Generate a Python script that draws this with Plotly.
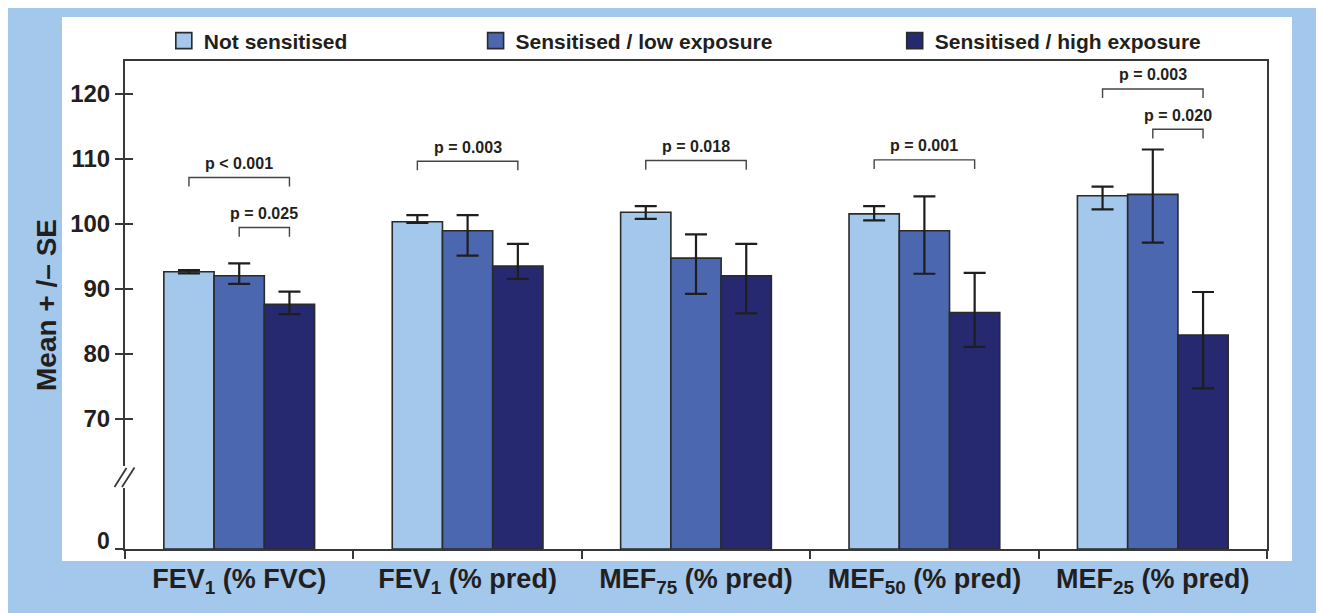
import plotly.graph_objects as go

# ---------------- data ----------------
categories = ["FEV<sub>1</sub> (% FVC)", "FEV<sub>1</sub> (% pred)",
              "MEF<sub>75</sub> (% pred)", "MEF<sub>50</sub> (% pred)",
              "MEF<sub>25</sub> (% pred)"]
series_names = ["Not sensitised", "Sensitised / low exposure", "Sensitised / high exposure"]

not_sens_mean = [92.6, 100.3, 101.75, 101.5, 104.3]
not_sens_plus = [0.25, 1.0, 0.95, 1.2, 1.4]
not_sens_minus = [0.25, 0.2, 1.0, 1.0, 2.1]

low_exp_mean = [92.0, 98.9, 94.7, 98.9, 104.5]
low_exp_plus = [1.9, 2.4, 3.65, 5.3, 6.9]
low_exp_minus = [1.25, 3.8, 5.5, 6.6, 7.4]

high_exp_mean = [87.6, 93.5, 92.0, 86.35, 82.9]
high_exp_plus = [1.95, 3.4, 4.9, 6.1, 6.6]
high_exp_minus = [1.5, 2.0, 5.8, 5.3, 8.2]

# significance brackets: (category index, from group, to group, level, label)
bracket_cat = [0, 0, 1, 2, 3, 4, 4]
bracket_from = [0, 1, 0, 0, 0, 0, 1]
bracket_to = [2, 2, 2, 2, 2, 2, 2]
bracket_level = [107.1, 99.4, 109.6, 109.7, 109.8, 120.7, 114.5]
bracket_label = ["p < 0.001", "p = 0.025", "p = 0.003", "p = 0.018",
                 "p = 0.001", "p = 0.003", "p = 0.020"]

y_tick_vals = [50, 70, 80, 90, 100, 110, 120]
y_tick_text = ["", "70", "80", "90", "100", "110", "120"]
zero_label_level = 51.2

# ---------------- style ----------------
FONT = "Liberation Sans, Arial, Helvetica, sans-serif"
TXT = "#231F20"
BG_BLUE = "#A3C8EC"
colors = ["#A3C8EC", "#4A67B0", "#262870"]
OUT = "#2A2A2A"
AX = "#383838"

Y0, Y1 = 50, 125
BAR_W = 0.22

fig = go.Figure()

means = [not_sens_mean, low_exp_mean, high_exp_mean]
pluses = [not_sens_plus, low_exp_plus, high_exp_plus]
minuses = [not_sens_minus, low_exp_minus, high_exp_minus]

for i in range(3):
    fig.add_trace(go.Bar(
        x=categories, y=[m - Y0 for m in means[i]], base=Y0,
        name=series_names[i], showlegend=False,
        marker=dict(color=colors[i], line=dict(color=OUT, width=1.6)),
        width=BAR_W,
        error_y=dict(type="data", symmetric=False, array=pluses[i],
                     arrayminus=minuses[i], color="#1E1E1E", thickness=2.2, width=11),
    ))

legend_x = [0.034, 0.307, 0.674]
legend_keys = ["legend", "legend2", "legend3"]
for i in range(3):
    fig.add_trace(go.Scatter(
        x=[None], y=[None], mode="markers", name=series_names[i],
        marker=dict(symbol="square", size=16, color=colors[i],
                    line=dict(color=OUT, width=1.6)),
        legend=legend_keys[i], yaxis="y2", showlegend=True,
    ))

shapes = []
# page-pixel helpers (plot area spans page x 125..1267, y 61..549)
def px_x(px):
    return (px - 125) / 1142.0

def px_y(py):
    return (549 - py) / 488.0

shapes.append(dict(type="rect", xref="paper", yref="paper", x0=px_x(6), x1=px_x(1340),
                   y0=px_y(630), y1=px_y(7), fillcolor=BG_BLUE, line=dict(width=0), layer="below"))
shapes.append(dict(type="rect", xref="paper", yref="paper", x0=px_x(62), x1=px_x(1292),
                   y0=px_y(561), y1=px_y(17), fillcolor="white", line=dict(width=0), layer="below"))

# axis break
shapes.append(dict(type="rect", xref="paper", yref="paper", x0=px_x(119), x1=px_x(131),
                   y0=px_y(488), y1=px_y(466), fillcolor="white", line=dict(width=0), layer="above"))
shapes.append(dict(type="line", xref="paper", yref="paper", x0=px_x(114.5), x1=px_x(126.5),
                   y0=px_y(487), y1=px_y(468), line=dict(color=AX, width=1.8), layer="above"))
shapes.append(dict(type="line", xref="paper", yref="paper", x0=px_x(122), x1=px_x(134.5),
                   y0=px_y(487), y1=px_y(467.5), line=dict(color=AX, width=1.8), layer="above"))

offsets = [-BAR_W, 0.0, BAR_W]
annotations = []
drop = 1.4
for c, f, t, lv, lab in zip(bracket_cat, bracket_from, bracket_to, bracket_level, bracket_label):
    xa = c + offsets[f]
    xb = c + offsets[t]
    shapes.append(dict(type="path", xref="x", yref="y",
                       path=f"M {xa},{lv - drop} L {xa},{lv} L {xb},{lv} L {xb},{lv - drop}",
                       line=dict(color="#444444", width=1.4)))
    annotations.append(dict(x=(xa + xb) / 2, y=lv, xref="x", yref="y", text=lab,
                            showarrow=False, yanchor="middle", yshift=14,
                            font=dict(family=FONT, size=16, color=TXT, weight="bold")))

annotations.append(dict(x=px_x(112), y=zero_label_level, xref="paper", yref="y", text="0",
                        showarrow=False, xanchor="right", yanchor="middle",
                        font=dict(family=FONT, size=23, color=TXT, weight="bold")))

leg_common = dict(orientation="h", yanchor="middle", y=px_y(41), xanchor="left",
                  bgcolor="rgba(0,0,0,0)", borderwidth=0,
                  font=dict(family=FONT, size=21, color=TXT, weight="bold"))

fig.update_layout(
    width=1316, height=605,
    margin=dict(l=117, r=57, t=53, b=64),
    paper_bgcolor="white", plot_bgcolor="white",
    barmode="group", bargap=0.34, bargroupgap=0,
    font=dict(family=FONT, color=TXT, weight="bold"),
    shapes=shapes, annotations=annotations,
    legend=dict(x=legend_x[0], **leg_common),
    legend2=dict(x=legend_x[1], **leg_common),
    legend3=dict(x=legend_x[2], **leg_common),
    xaxis=dict(type="category", range=[-0.5, 4.5], tickson="boundaries",
               showline=True, linecolor=AX, linewidth=2, mirror=True,
               ticks="outside", ticklen=8, tickwidth=1.6, tickcolor=AX,
               ticklabelstandoff=5,
               showgrid=False, zeroline=False,
               tickfont=dict(family=FONT, size=27, color=TXT, weight="bold")),
    yaxis=dict(range=[Y0, Y1], tickvals=y_tick_vals, ticktext=y_tick_text,
               showline=True, linecolor=AX, linewidth=2, mirror=True,
               ticks="outside", ticklen=8, tickwidth=1.6, tickcolor=AX,
               showgrid=False, zeroline=False,
               tickfont=dict(family=FONT, size=24, color=TXT, weight="bold"),
               title=dict(text="Mean + /– SE", standoff=5,
                          font=dict(family=FONT, size=28, color=TXT, weight="bold"))),
    yaxis2=dict(range=[Y0, Y1], overlaying="y", tickvals=y_tick_vals[1:],
                ticks="inside", ticklen=8, tickwidth=1.6, tickcolor=AX,
                showticklabels=False, showline=False, showgrid=False, zeroline=False),
)

fig.write_html("out.html")
